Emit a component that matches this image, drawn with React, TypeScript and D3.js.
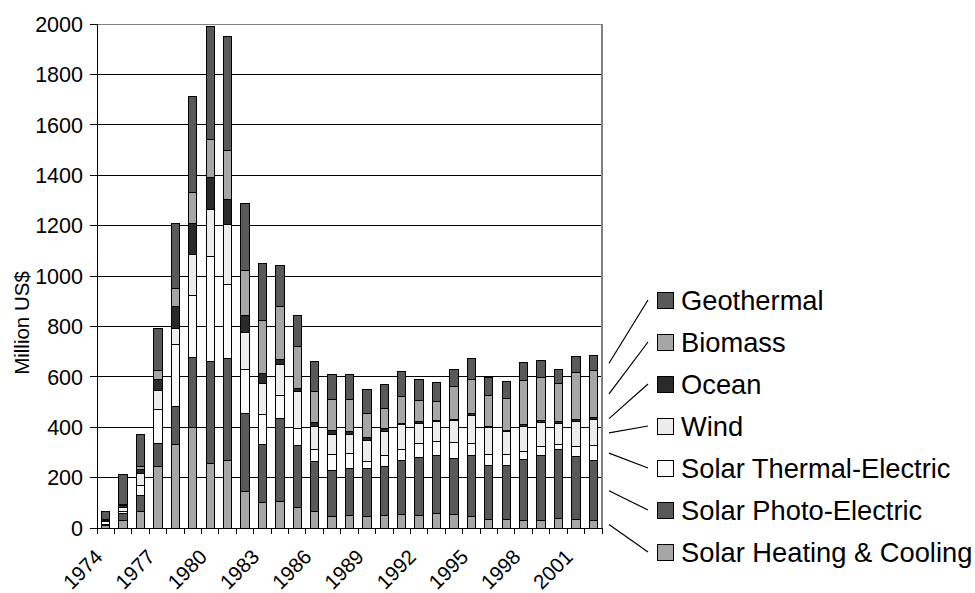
import React from 'react';
import * as d3 from 'd3';

// years on the category axis
const years = [
  '1974', '1975', '1976', '1977', '1978', '1979', '1980', '1981', '1982', '1983',
  '1984', '1985', '1986', '1987', '1988', '1989', '1990', '1991', '1992', '1993',
  '1994', '1995', '1996', '1997', '1998', '1999', '2000', '2001', '2002',
];

// series, bottom of the stack first (Million US$)
const solarHeating = [8, 31, 67, 243, 332, 398, 256, 268, 145, 100, 104, 83, 64, 44, 48, 45, 51, 53, 50, 56, 54, 47, 33, 33, 31, 29, 37, 32, 28];
const solarPhoto = [6, 25, 61, 94, 151, 279, 405, 404, 311, 230, 330, 243, 200, 184, 189, 192, 192, 213, 228, 232, 221, 239, 216, 216, 241, 259, 273, 250, 240];
const solarThermal = [11, 10, 42, 132, 246, 244, 417, 294, 171, 121, 90, 69, 48, 62, 57, 28, 46, 44, 57, 54, 64, 49, 42, 41, 30, 34, 20, 41, 58];
const wind = [3, 14, 48, 78, 62, 164, 185, 239, 150, 124, 126, 147, 89, 80, 77, 84, 94, 101, 81, 81, 88, 113, 108, 93, 99, 97, 86, 100, 103];
const ocean = [3, 8, 15, 43, 89, 123, 126, 99, 67, 38, 20, 12, 16, 18, 13, 11, 11, 5, 5, 4, 5, 7, 2, 2, 10, 6, 8, 9, 10];
const biomass = [3, 5, 13, 34, 72, 123, 154, 194, 177, 212, 207, 166, 125, 122, 126, 96, 82, 105, 84, 74, 130, 134, 124, 127, 176, 173, 150, 185, 186];
const geothermal = [33, 120, 126, 167, 256, 382, 446, 453, 265, 226, 163, 125, 120, 98, 99, 95, 92, 100, 86, 77, 65, 82, 72, 69, 69, 65, 53, 63, 58];

const seriesNames = [
  'Solar Heating & Cooling',
  'Solar Photo-Electric',
  'Solar Thermal-Electric',
  'Wind',
  'Ocean',
  'Biomass',
  'Geothermal',
];
const seriesValues = [solarHeating, solarPhoto, solarThermal, wind, ocean, biomass, geothermal];
const seriesColors = ['#a6a6a6', '#595959', '#fafafa', '#ececec', '#2a2a2a', '#a6a6a6', '#595959'];

const W = 975;
const H = 593;
const left = 97;
const right = 602;
const top = 24;
const bottom = 528;
const font = '"Liberation Sans", Arial, sans-serif';

const App: React.FC = () => {
  const rows = years.map((yr, i) => {
    const r: any = { year: yr };
    seriesNames.forEach((n, j) => { r[n] = seriesValues[j][i]; });
    return r;
  });
  const stacked = d3.stack<any>().keys(seriesNames)(rows);

  const pad = 0.52;
  const x = d3.scaleBand<string>().domain(years).range([left, right])
    .paddingInner(pad).paddingOuter(pad / 2);
  const y = d3.scaleLinear().domain([0, 2000]).range([bottom, top]);
  const step = x.step();
  const bw = x.bandwidth();

  const yTicks = y.ticks(10);
  const boundaries = years.map(yr => (x(yr) as number) - step * pad / 2).concat([right]);
  const labelYears = years.filter((_, i) => i % 3 === 0);

  const legendTop = 300;
  const legendGap = 42;
  const swatchX = 657;
  const lastIdx = years.length - 1;
  const legendOrder = [...stacked].reverse();

  return (
    <svg width={W} height={H} style={{ position: 'absolute', left: 0, top: 0, background: '#fff' }}
      fontFamily={font}>
      {/* gridlines */}
      {yTicks.map(t => (
        <line key={'g' + t} x1={left} x2={right} y1={y(t)} y2={y(t)}
          stroke={t === 2000 ? '#808080' : '#000'} strokeWidth={1} shapeRendering="crispEdges" />
      ))}
      {/* plot area right border */}
      <line x1={right} x2={right} y1={top} y2={bottom} stroke="#808080" strokeWidth={1.5} shapeRendering="crispEdges" />

      {/* bars */}
      {stacked.map((s, j) => (
        <g key={s.key} fill={seriesColors[j]} stroke="#000" strokeWidth={1}>
          {s.map((d, i) => (
            <rect key={i} x={x(years[i])} width={bw}
              y={y(d[1])} height={Math.max(0, y(d[0]) - y(d[1]))} shapeRendering="crispEdges" />
          ))}
        </g>
      ))}

      {/* axes */}
      <line x1={left} x2={left} y1={top} y2={bottom} stroke="#000" shapeRendering="crispEdges" />
      <line x1={left} x2={right} y1={bottom} y2={bottom} stroke="#000" shapeRendering="crispEdges" />
      {yTicks.map(t => (
        <g key={'yt' + t}>
          <line x1={left - 7} x2={left} y1={y(t)} y2={y(t)} stroke="#000" shapeRendering="crispEdges" />
          <text x={83} y={y(t)} dy="0.36em" textAnchor="end" fontSize={21.5}>{t}</text>
        </g>
      ))}
      {boundaries.map((bx, i) => (
        <line key={'xt' + i} x1={bx} x2={bx} y1={bottom} y2={bottom + 6} stroke="#000" shapeRendering="crispEdges" />
      ))}
      {labelYears.map(yr => (
        <text key={'xl' + yr} transform={`translate(${(x(yr) as number) + bw / 2 - 7},${bottom + 25}) rotate(-45)`}
          textAnchor="end" dy="0.36em" fontSize={20.5}>{yr}</text>
      ))}
      <text transform={`translate(29,${323}) rotate(-90)`} textAnchor="middle" fontSize={20.5}>Million US$</text>

      {/* leader lines and legend */}
      {legendOrder.map((s, i) => {
        const d = s[lastIdx];
        const ly = legendTop + i * legendGap;
        return (
          <g key={'lg' + s.key}>
            <line x1={right + 7} y1={y((d[0] + d[1]) / 2)} x2={swatchX - 9} y2={ly} stroke="#000" strokeWidth={1.2} />
            <rect x={swatchX} y={ly - 8} width={16} height={16} fill={seriesColors[seriesNames.indexOf(s.key)]}
              stroke="#000" strokeWidth={1} shapeRendering="crispEdges" />
            <text x={681} y={ly} dy="0.36em" fontSize={27.3}>{s.key}</text>
          </g>
        );
      })}
    </svg>
  );
};

export default App;
